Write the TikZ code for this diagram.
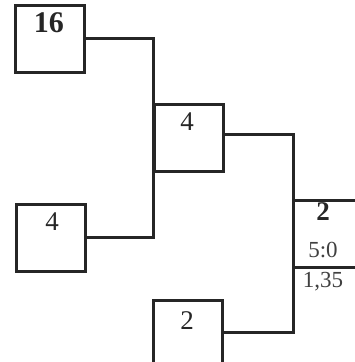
\documentclass[tikz,border=0pt]{standalone}
\usepackage{fontspec}
\setmainfont{Liberation Serif}
\begin{document}
\begin{tikzpicture}[x=1pt,y=-1pt,
  ln/.style={line width=3pt, draw=black!85, line cap=rect},
  bx/.style={ln, minimum width=69pt, minimum height=67pt, inner sep=0pt, anchor=north west},
  num/.style={font=\fontsize{30}{30}\selectfont\bfseries, text=black!85},
  mid/.style={font=\fontsize{27}{27}\selectfont, text=black!85},
  sm/.style={font=\fontsize{23}{23}\selectfont, text=black!75}]
\useasboundingbox (0,0) rectangle (355,362);
\node[bx] (a) at (14,4) {};
\node[bx] (b) at (153,103) {};
\node[bx] (c) at (15,203) {};
\node[num] (ta) at (49,23) {16};
\node[mid] (tb) at (187,122) {4};
\node[mid] (tc) at (52,222) {4};
\coordinate (d1) at (153,300);
\coordinate (d2) at (222,300);
\draw[ln] (153,364) -- (d1) -- (d2) -- (222,364);
\node[mid] (td) at (187,321) {2};
\coordinate (j1) at (153,38);
\coordinate (j2) at (153,237);
\draw[ln] (a.east |- j1) -- (j1) -- (j2) -- (c.east |- j2);
\coordinate (k1) at (293,134);
\coordinate (k2) at (293,332);
\draw[ln] (b.east |- k1) -- (k1) -- (k2) -- (222,332);
\coordinate (f1) at (293,200);
\coordinate (f2) at (357,200);
\coordinate (g1) at (293,267);
\coordinate (g2) at (357,267);
\draw[ln] (f1) -- (f2);
\draw[ln] (g1) -- (g2);
\node[mid,font=\fontsize{27}{27}\selectfont\bfseries] (te) at (323,212) {2};
\node[sm] (tf) at (323,250) {5:0};
\node[sm] (tg) at (323,282) {1,35};
\end{tikzpicture}
\end{document}
